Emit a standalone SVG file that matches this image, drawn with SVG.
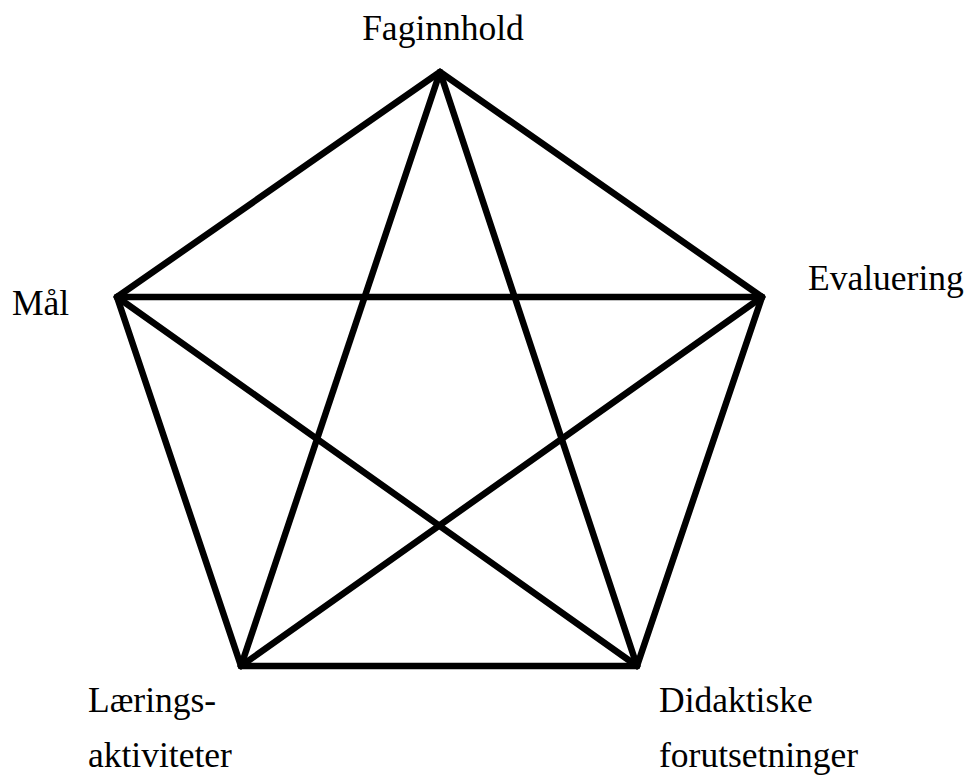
<svg xmlns="http://www.w3.org/2000/svg" width="970" height="778" viewBox="0 0 970 778">
<style>
.lbl{font-family:"Liberation Serif","Times New Roman",serif;font-size:35.5px;fill:#000}
.e{stroke:#000;stroke-width:6.5;stroke-linecap:round;stroke-linejoin:round;fill:none}
</style>
<rect width="970" height="778" fill="#fff"/>
<g id="connectors">
<line class="e" x1="440" y1="72" x2="117" y2="297"/>
<line class="e" x1="440" y1="72" x2="762" y2="297"/>
<line class="e" x1="440" y1="72" x2="241" y2="666"/>
<line class="e" x1="440" y1="72" x2="637" y2="666"/>
<line class="e" x1="117" y1="297" x2="762" y2="297"/>
<line class="e" x1="117" y1="297" x2="241" y2="666"/>
<line class="e" x1="117" y1="297" x2="637" y2="666"/>
<line class="e" x1="762" y1="297" x2="241" y2="666"/>
<line class="e" x1="762" y1="297" x2="637" y2="666"/>
<line class="e" x1="241" y1="666" x2="637" y2="666"/>
</g>
<g id="faginnhold"><text class="lbl" x="443" y="40" text-anchor="middle">Faginnhold</text></g>
<g id="mal"><text class="lbl" x="12" y="315">Mål</text></g>
<g id="evaluering"><text class="lbl" x="808" y="290">Evaluering</text></g>
<g id="laeringsaktiviteter"><text class="lbl" x="88" y="712">Lærings-</text><text class="lbl" x="88" y="767">aktiviteter</text></g>
<g id="didaktiske"><text class="lbl" x="659" y="712">Didaktiske</text><text class="lbl" x="659" y="767">forutsetninger</text></g>
</svg>
